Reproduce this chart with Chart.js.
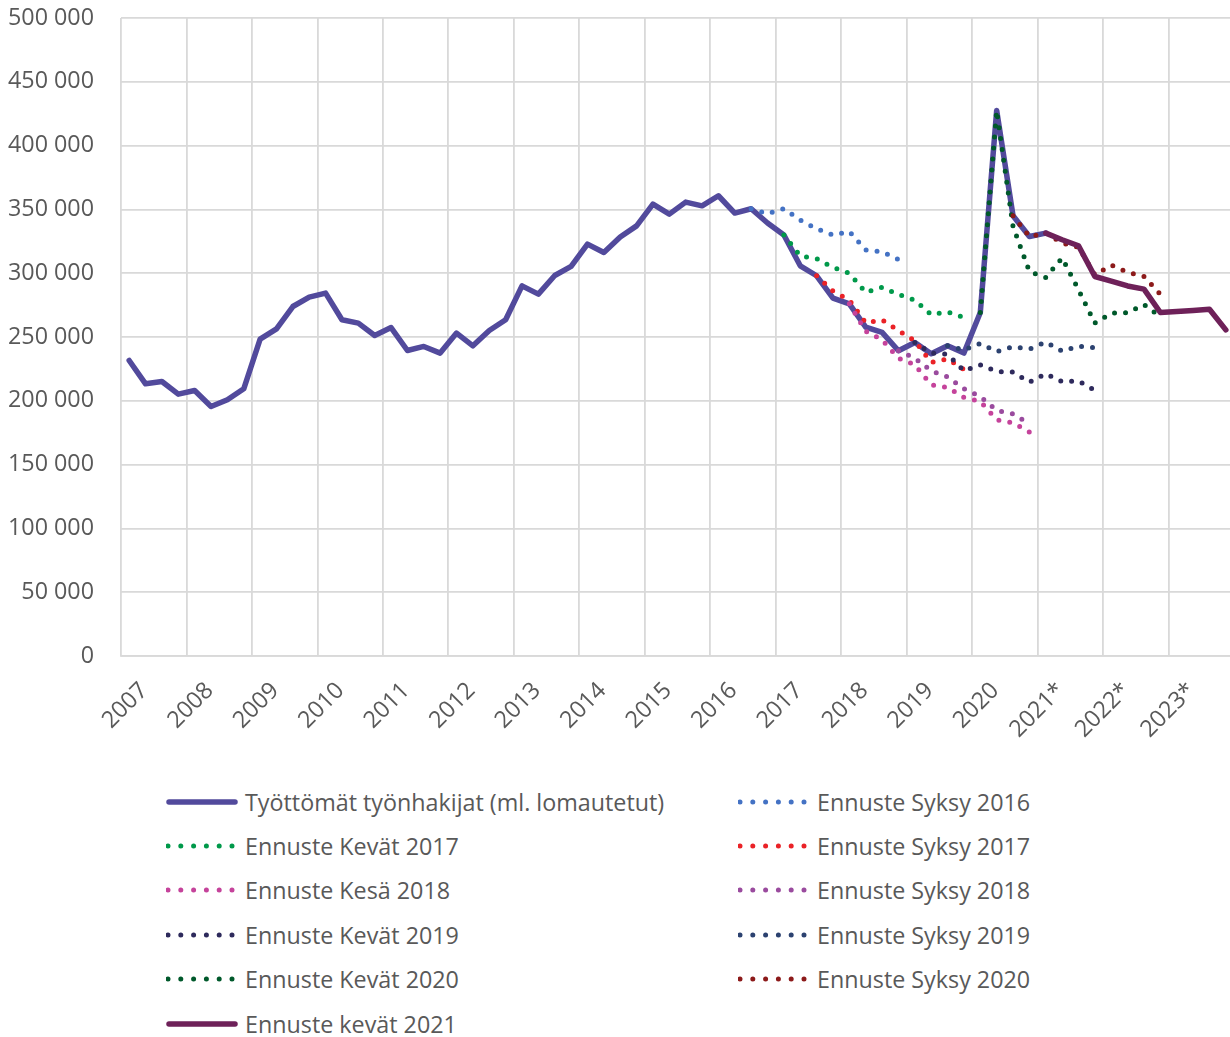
<!DOCTYPE html>
<html>
<head>
<meta charset="utf-8">
<script src="https://cdn.jsdelivr.net/npm/chart.js@4.4.1/dist/chart.umd.min.js"></script>
<style>
  html, body { margin: 0; padding: 0; background: #fff; overflow: hidden; }
  body { width: 1230px; height: 1037px; position: relative; font-family: 'Open Sans', sans-serif; }
  #wrap { position: absolute; left: 0; top: 0; width: 1234px; height: 760px; }
  #legend { position: absolute; left: 0; top: 780px; width: 1230px; height: 257px; }
  .item { position: absolute; display: flex; align-items: center; height: 30px; font-size: 23.3px; color: #595959; white-space: nowrap; }
  .item svg { margin-right: 7px; flex: none; }
</style>
</head>
<body>
<div id="wrap"><canvas id="chart"></canvas></div>
<div id="legend"></div>
<script>
// Years on the x axis, four quarters each
const years = ['2007', '2008', '2009', '2010', '2011', '2012', '2013', '2014', '2015',
    '2016', '2017', '2018', '2019', '2020', '2021*', '2022*', '2023*'];
const quarters = ['Q1', 'Q2', 'Q3', 'Q4'];
const categories = years.flatMap(y => quarters.map(q => y + ' ' + q));

// Työttömät työnhakijat (ml. lomautetut), from 2007 Q1
const actual = [
    231600, 213300, 215100, 205200, 208100, 195500, 200800, 209400,
    248300, 256400, 273900, 281300, 284400, 263500, 260900, 251200,
    257400, 239400, 242600, 237400, 253100, 243100, 255100, 263500,
    290100, 283600, 298200, 305300, 322800, 316200, 328300, 337100,
    354100, 346300, 355700, 352800, 360700, 347100, 350500, 339300,
    330000, 305800, 298000, 280500, 276000, 257800, 253600, 239200,
    245700, 236800, 243100, 237400, 269200, 427500, 345000, 328800,
    331400
];

// Forecasts: first quarter + values
const syksy2016Start = '2016 Q3';
const syksy2016 = [350500, 346600, 350500, 341600, 334800, 329800, 332700, 318300, 316800, 310700];
const kevat2017Start = '2017 Q1';
const kevat2017 = [330000, 313500, 311500, 304500, 300000, 284900, 289000, 283300, 278900, 267400, 269700, 265300];
const syksy2017Start = '2017 Q3';
const syksy2017 = [298000, 286000, 279000, 261000, 263500, 255100, 247000, 230000, 232900, 224500];
const kesa2018Start = '2018 Q1';
const kesa2018 = [276000, 254500, 247800, 233400, 228200, 212500, 210400, 202600, 199500, 185100, 182800, 175500];
const syksy2018Start = '2018 Q4';
const syksy2018 = [239200, 233400, 223500, 218800, 209400, 203400, 192400, 189800, 182000];
const kevat2019Start = '2019 Q1';
const kevat2019 = [245700, 237400, 236600, 223500, 228200, 223000, 222500, 214600, 221200, 215100, 215500, 208100];
const syksy2019Start = '2019 Q3';
const syksy2019 = [243100, 240000, 245000, 238600, 242300, 240500, 246000, 238900, 242900, 241500];
const kevat2020Start = '2020 Q1';
const kevat2020 = [269200, 427500, 336600, 301300, 296700, 312000, 287000, 260900, 268700, 269000, 275500, 266000];
const syksy2020Start = '2020 Q3';
const syksy2020 = [345000, 328800, 331400, 323600, 320400, 298700, 306300, 300800, 297400, 283500];
const kevat2021Start = '2021* Q1';
const kevat2021 = [331400, 326200, 321500, 297400, 293800, 290000, 287500, 269200, 270000, 270800, 271800, 255600];

// pad a series out to the full category list
function place(start, values) {
    const out = categories.map(() => null);
    const first = categories.indexOf(start);
    values.forEach((v, i) => { out[first + i] = v; });
    return out;
}

function solid(label, data, color) {
    return { label, data, borderColor: color, backgroundColor: color, borderWidth: 5.5,
        borderCapStyle: 'round', borderJoinStyle: 'round', solid: true };
}

function dotted(label, data, color) {
    return { label, data, borderColor: color, backgroundColor: color, borderWidth: 5,
        borderDash: [0, 11], borderCapStyle: 'round', borderJoinStyle: 'round', solid: false };
}

const datasets = [
    solid('Työttömät työnhakijat (ml. lomautetut)', actual, '#524a9c'),
    dotted('Ennuste Syksy 2016', place(syksy2016Start, syksy2016), '#4472c4'),
    dotted('Ennuste Kevät 2017', place(kevat2017Start, kevat2017), '#00994a'),
    dotted('Ennuste Syksy 2017', place(syksy2017Start, syksy2017), '#ea2227'),
    dotted('Ennuste Kesä 2018', place(kesa2018Start, kesa2018), '#c5439b'),
    dotted('Ennuste Syksy 2018', place(syksy2018Start, syksy2018), '#9a4b9e'),
    dotted('Ennuste Kevät 2019', place(kevat2019Start, kevat2019), '#2e2a5c'),
    dotted('Ennuste Syksy 2019', place(syksy2019Start, syksy2019), '#2c4270'),
    dotted('Ennuste Kevät 2020', place(kevat2020Start, kevat2020), '#00592b'),
    dotted('Ennuste Syksy 2020', place(syksy2020Start, syksy2020), '#8c1a1a'),
    solid('Ennuste kevät 2021', place(kevat2021Start, kevat2021), '#6e2159')
];
// later series drawn on top
datasets.forEach((ds, i) => { ds.order = datasets.length - i; });

const gridColor = '#d9d9d9';
const textColor = '#595959';
const tickFont = { family: 'Open Sans', size: 23.3 };

function thousands(v) {
    return String(v).replace(/\B(?=(\d{3})+(?!\d))/g, ' ');
}

const chart = new Chart(document.getElementById('chart'), {
    type: 'line',
    data: { labels: categories, datasets: datasets },
    options: {
        responsive: true,
        maintainAspectRatio: false,
        animation: false,
        layout: { padding: { top: 18, left: 0, right: 0, bottom: 0 } },
        elements: { point: { radius: 0, hoverRadius: 0 }, line: { tension: 0 } },
        plugins: { legend: { display: false }, tooltip: { enabled: false } },
        scales: {
            x: {
                offset: true,
                grid: {
                    offset: true,
                    drawTicks: false,
                    lineWidth: 1.8,
                    color: ctx => (ctx.index !== undefined && ctx.index % 4 === 0) ? gridColor : 'rgba(0,0,0,0)'
                },
                border: { color: gridColor, width: 1.8 },
                ticks: {
                    autoSkip: false,
                    maxRotation: 45,
                    minRotation: 45,
                    padding: 21,
                    labelOffset: 15,
                    color: textColor,
                    font: tickFont,
                    callback: (v, i) => (i % 4 === 0 ? years[i / 4] : '')
                },
                afterFit: s => { s.height = 104; s.paddingLeft = 0; s.paddingRight = 0; }
            },
            y: {
                min: 0,
                max: 500000,
                grid: { color: gridColor, lineWidth: 1.8, drawTicks: false },
                border: { display: false },
                ticks: { stepSize: 50000, padding: 27, color: textColor, font: tickFont, callback: v => thousands(v) },
                afterFit: s => { s.width = 121; s.paddingTop = 0; s.paddingBottom = 0; }
            }
        }
    }
});

// two-column legend built from the datasets
const legendEl = document.getElementById('legend');
chart.data.datasets.forEach((ds, i) => {
    const col = i % 2;
    const row = Math.floor(i / 2);
    const item = document.createElement('div');
    item.className = 'item';
    item.style.left = (col ? 738 : 166) + 'px';
    item.style.top = (6.5 + row * 44.4) + 'px';
    const line = ds.solid
        ? '<line x1="3" y1="6" x2="69" y2="6" stroke="' + ds.borderColor + '" stroke-width="5.5" stroke-linecap="round"/>'
        : '<line x1="2" y1="6" x2="70" y2="6" stroke="' + ds.borderColor + '" stroke-width="5" stroke-linecap="round" stroke-dasharray="0 12.8"/>';
    item.innerHTML = '<svg width="72" height="12">' + line + '</svg><span>' + ds.label + '</span>';
    legendEl.appendChild(item);
});
</script>
</body>
</html>
